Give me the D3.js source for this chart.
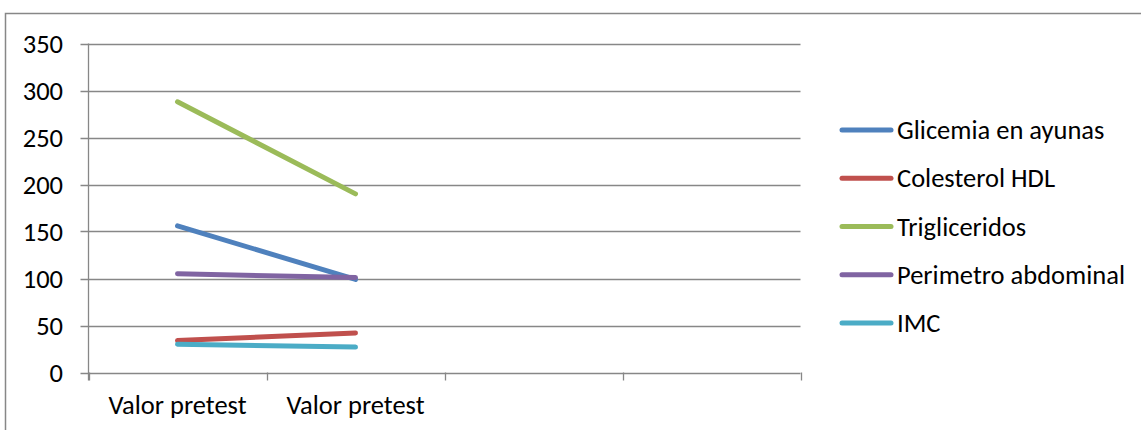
<!DOCTYPE html>
<html>
<head>
<meta charset="utf-8">
<script src="https://cdn.jsdelivr.net/npm/d3@7"></script>
<style>
  html, body { margin: 0; padding: 0; background: #fff; }
  svg { display: block; }
  text { font-family: Calibri, Carlito, "Liberation Sans", Arial, sans-serif; fill: #000; }
</style>
</head>
<body>
<svg id="chart" width="1141" height="430"></svg>
<script>
// Categories on the x axis (four slots, only the first two carry values/labels)
const categories = ["c1", "c2", "c3", "c4"];
const categoryLabels = ["Valor pretest", "Valor pretest", "", ""];

// Series values for the two measured categories
const seriesNames = ["Glicemia en ayunas", "Colesterol HDL", "Trigliceridos", "Perimetro abdominal", "IMC"];
const glicemia = [156, 99];
const colesterolHDL = [34, 42];
const trigliceridos = [288, 190];
const perimetro = [105, 101];
const imc = [30, 27];
const seriesValues = [glicemia, colesterolHDL, trigliceridos, perimetro, imc];
const seriesColors = ["#4F81BD", "#C0504D", "#9BBB59", "#8064A2", "#4BACC6"];

// Y axis ticks
const yTicks = [0, 50, 100, 150, 200, 250, 300, 350];

const fontSize = "26.5px";
const svg = d3.select("#chart");

// Outer chart frame (top and left edges are visible; the rest runs off the canvas)
svg.append("rect")
  .attr("x", 5.5).attr("y", 13.5)
  .attr("width", 1150).attr("height", 440)
  .attr("fill", "none").attr("stroke", "#878787").attr("stroke-width", 1.5);

const plot = { left: 88.5, right: 800.5, top: 43.5, bottom: 372.5 };

const x = d3.scaleBand().domain(categories).range([plot.left, plot.right]).padding(0);
const y = d3.scaleLinear().domain([0, 350]).range([plot.bottom, plot.top]);

const gridColor = "#878787";

// Horizontal gridlines (with short tick stubs left of the axis)
svg.append("g")
  .selectAll("line")
  .data(yTicks)
  .join("line")
  .attr("x1", plot.left - 8).attr("x2", plot.right)
  .attr("y1", d => Math.round(y(d)) + 0.5).attr("y2", d => Math.round(y(d)) + 0.5)
  .attr("stroke", gridColor).attr("stroke-width", 1.3);

// Y axis line
svg.append("line")
  .attr("x1", plot.left).attr("x2", plot.left)
  .attr("y1", plot.top).attr("y2", plot.bottom + 8)
  .attr("stroke", gridColor).attr("stroke-width", 1.3);

// X axis category boundary ticks
const boundaries = categories.map(c => x(c)).concat([x(categories[categories.length - 1]) + x.bandwidth()]);
svg.append("g")
  .selectAll("line")
  .data(boundaries)
  .join("line")
  .attr("x1", d => Math.round(d) + 0.5).attr("x2", d => Math.round(d) + 0.5)
  .attr("y1", plot.bottom).attr("y2", plot.bottom + 8)
  .attr("stroke", gridColor).attr("stroke-width", 1.3);

// Y tick labels
svg.append("g")
  .selectAll("text")
  .data(yTicks)
  .join("text")
  .attr("x", 63)
  .attr("y", d => y(d))
  .attr("dy", "0.34em")
  .attr("text-anchor", "end")
  .style("font-size", fontSize)
  .text(d => d);

// X category labels
svg.append("g")
  .selectAll("text")
  .data(categories)
  .join("text")
  .attr("x", d => x(d) + x.bandwidth() / 2)
  .attr("y", 414)
  .attr("text-anchor", "middle")
  .style("font-size", fontSize)
  .text((d, i) => categoryLabels[i]);

// Series lines
const line = d3.line()
  .x((d, i) => x(categories[i]) + x.bandwidth() / 2)
  .y(d => y(d));

svg.append("g")
  .selectAll("path")
  .data(seriesValues)
  .join("path")
  .attr("d", d => line(d))
  .attr("fill", "none")
  .attr("stroke", (d, i) => seriesColors[i])
  .attr("stroke-width", 5)
  .attr("stroke-linecap", "round")
  .attr("stroke-linejoin", "round");

// Legend
const legend = svg.append("g");
const legendY = d3.scalePoint().domain(seriesNames).range([130, 323]);
const items = legend.selectAll("g")
  .data(seriesNames)
  .join("g")
  .attr("transform", d => `translate(0,${legendY(d)})`);
items.append("line")
  .attr("x1", 842).attr("x2", 891)
  .attr("y1", 0).attr("y2", 0)
  .attr("stroke", (d, i) => seriesColors[i])
  .attr("stroke-width", 5)
  .attr("stroke-linecap", "round");
items.append("text")
  .attr("x", 897)
  .attr("y", 0)
  .attr("dy", "0.34em")
  .style("font-size", fontSize)
  .text(d => d);
</script>
</body>
</html>
